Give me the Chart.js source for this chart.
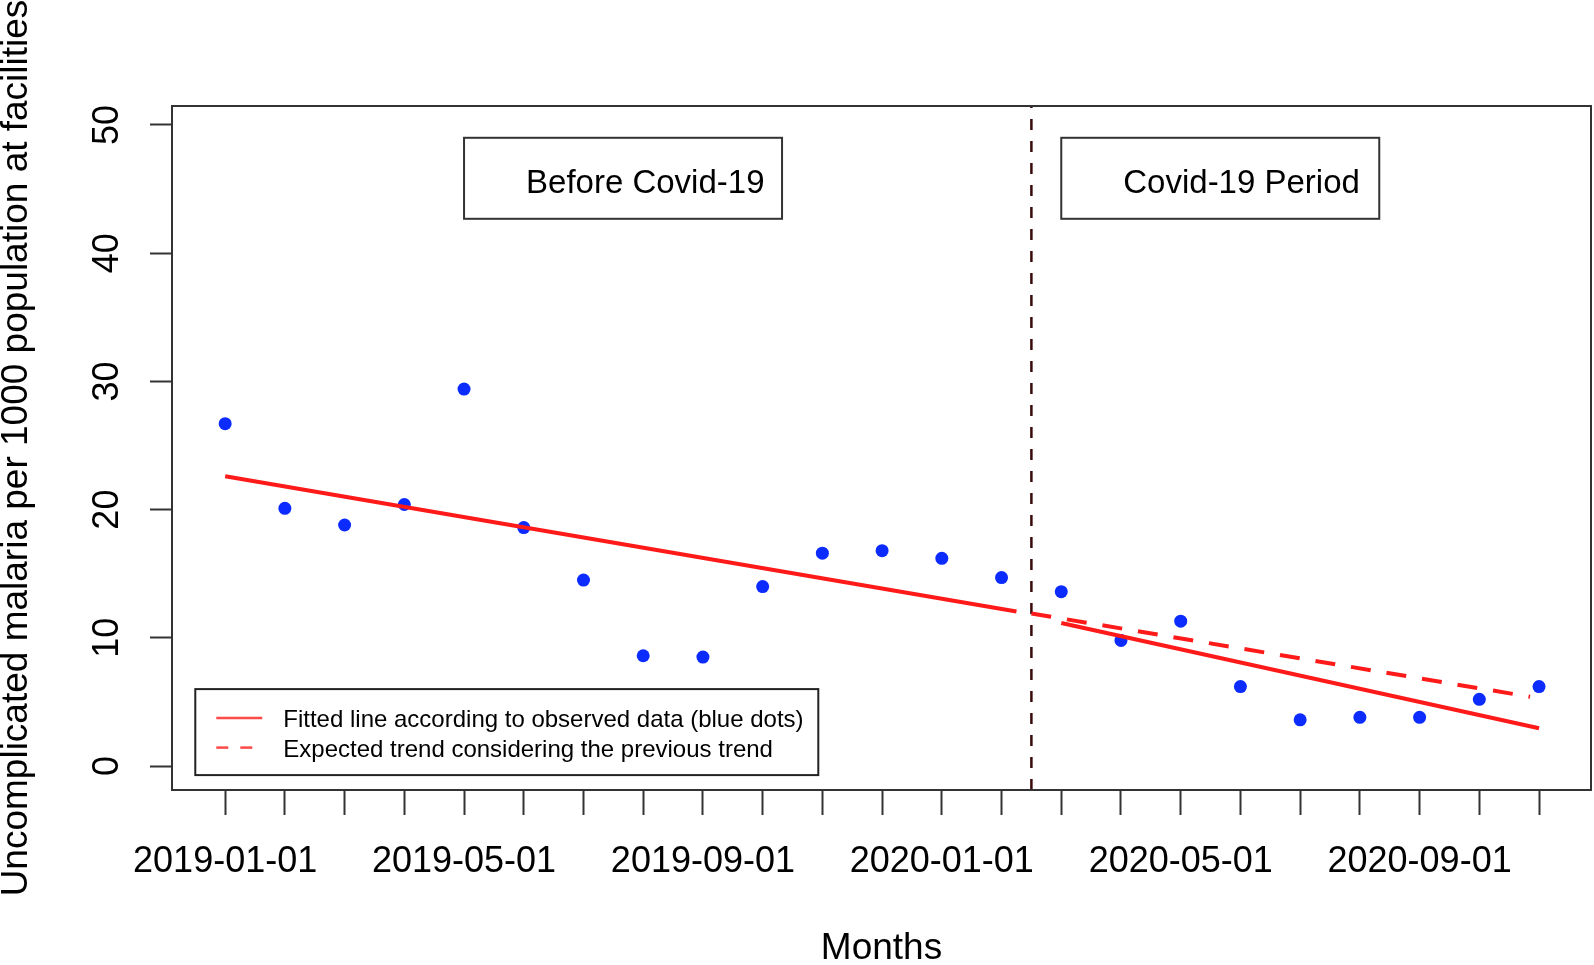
<!DOCTYPE html>
<html lang="en">
<head>
  <meta charset="UTF-8">
  <title>Uncomplicated malaria before and during Covid-19</title>
  <script src="https://cdn.jsdelivr.net/npm/chart.js"></script>
  <style>
    html, body { margin: 0; padding: 0; background: #fff; }
    canvas { display: block; }
  </style>
</head>
<body>
  <canvas id="malariaChart" width="1594" height="965"></canvas>

  <script>
    // one entry per month, 2019-01 .. 2020-11 (x value = index)
    const months = [
      "2019-01-01", "2019-02-01", "2019-03-01", "2019-04-01", "2019-05-01", "2019-06-01",
      "2019-07-01", "2019-08-01", "2019-09-01", "2019-10-01", "2019-11-01", "2019-12-01",
      "2020-01-01", "2020-02-01", "2020-03-01", "2020-04-01", "2020-05-01", "2020-06-01",
      "2020-07-01", "2020-08-01", "2020-09-01", "2020-10-01", "2020-11-01"
    ];
    const labeledMonths = ["2019-01-01", "2019-05-01", "2019-09-01", "2020-01-01", "2020-05-01", "2020-09-01"];

    // observed rate per 1000 population (blue dots)
    const observed = [
      26.7, 20.1, 18.8, 20.4, 29.4, 18.6, 14.5, 8.6, 8.5, 14.0, 16.6, 16.8,
      16.2, 14.7, 13.6, 9.8, 11.3, 6.2, 3.6, 3.8, 3.8, 5.2, 6.2
    ];

    // fitted segments (end points, x in month index)
    const fitBeforeX = [0, 13.25];
    const fitBeforeY = [22.6, 12.05];
    const fitAfterX = [14, 22];
    const fitAfterY = [11.15, 2.95];
    const expectedX = [13.5, 21.85];
    const expectedY = [11.9, 5.4];

    const covidStart = 13.5;
    const yTicks = [0, 10, 20, 30, 40, 50];
    const yMin = -1.87, yMax = 51.48;
    const xMin = -0.89, xMax = 22.87;

    const periodLabels = ["Before Covid-19", "Covid-19 Period"];
    const periodX = [4, 14];
    const periodY = 49;

    const legendLabels = [
      "Fitted line according to observed data (blue dots)",
      "Expected trend considering the previous trend"
    ];
    const legendX = -0.5, legendY = 6;

    const FONT = '"Liberation Sans", Arial, Helvetica, sans-serif';
    const RED = "#ff1a1a";

    const toXY = (xs, ys) => xs.map((x, i) => ({ x: x, y: ys[i] }));

    // box, y tick labels, period boxes and legend (R style)
    const decorations = {
      id: "decorations",
      afterDraw(chart) {
        const { ctx, chartArea: a, scales } = chart;
        const sx = scales.x, sy = scales.y;
        ctx.save();

        // plot frame
        ctx.strokeStyle = "#333";
        ctx.lineWidth = 2;
        ctx.strokeRect(a.left, a.top, a.right - a.left, a.bottom - a.top);

        // y tick labels, rotated like R
        ctx.fillStyle = "#000";
        ctx.font = "36px " + FONT;
        ctx.textAlign = "center";
        ctx.textBaseline = "middle";
        yTicks.forEach(v => {
          ctx.save();
          ctx.translate(108, sy.getPixelForValue(v));
          ctx.rotate(-Math.PI / 2);
          ctx.fillText(String(v), 0, 0);
          ctx.restore();
        });

        // period boxes
        ctx.font = "33px " + FONT;
        ctx.textAlign = "left";
        ctx.textBaseline = "alphabetic";
        periodLabels.forEach((txt, i) => {
          const bx = sx.getPixelForValue(periodX[i]);
          const by = sy.getPixelForValue(periodY);
          ctx.fillStyle = "#fff";
          ctx.fillRect(bx, by, 318, 81);
          ctx.strokeStyle = "#333";
          ctx.lineWidth = 2;
          ctx.strokeRect(bx, by, 318, 81);
          ctx.fillStyle = "#000";
          ctx.fillText(txt, bx + 62, by + 55);
        });

        // legend
        const lx = sx.getPixelForValue(legendX);
        const ly = sy.getPixelForValue(legendY);
        ctx.fillStyle = "#fff";
        ctx.fillRect(lx, ly, 623, 86);
        ctx.strokeStyle = "#222";
        ctx.lineWidth = 2;
        ctx.strokeRect(lx, ly, 623, 86);
        ctx.font = "24px " + FONT;
        legendLabels.forEach((txt, i) => {
          const rowY = ly + 29 + i * 29.5;
          ctx.strokeStyle = "#ff4a4a";
          ctx.lineWidth = 2.5;
          ctx.setLineDash(i === 1 ? [12, 12] : []);
          ctx.beginPath();
          ctx.moveTo(lx + 21, rowY);
          ctx.lineTo(lx + 67, rowY);
          ctx.stroke();
          ctx.setLineDash([]);
          ctx.fillStyle = "#000";
          ctx.fillText(txt, lx + 88, rowY + 9);
        });

        ctx.restore();
      }
    };

    const ctx = document.getElementById("malariaChart").getContext("2d");
    Chart.defaults.font.family = FONT;
    Chart.defaults.color = "#000";

    new Chart(ctx, {
      type: "scatter",
      data: {
        datasets: [
          {
            label: "Fitted (before)",
            data: toXY(fitBeforeX, fitBeforeY),
            showLine: true, borderColor: RED, borderWidth: 4, pointRadius: 0, order: 0
          },
          {
            label: "Fitted (after)",
            data: toXY(fitAfterX, fitAfterY),
            showLine: true, borderColor: RED, borderWidth: 4, pointRadius: 0, order: 0
          },
          {
            label: "Expected",
            data: toXY(expectedX, expectedY),
            showLine: true, borderColor: RED, borderWidth: 4, borderDash: [20, 16],
            pointRadius: 0, order: 0
          },
          {
            label: "Covid start",
            data: [{ x: covidStart, y: yMin }, { x: covidStart, y: yMax }],
            showLine: true, borderColor: "#3a0a0a", borderWidth: 2.5, borderDash: [11, 11],
            pointRadius: 0, order: 0
          },
          {
            label: "Observed",
            data: observed.map((v, i) => ({ x: i, y: v })),
            backgroundColor: "#0b2bff", borderWidth: 0, pointRadius: 6.5, order: 1
          }
        ]
      },
      options: {
        responsive: false,
        animation: false,
        devicePixelRatio: 1,
        layout: { autoPadding: false, padding: { top: 106, right: 3, left: 0, bottom: 0 } },
        plugins: {
          legend: { display: false },
          tooltip: { enabled: false }
        },
        scales: {
          x: {
            type: "linear",
            min: xMin,
            max: xMax,
            afterBuildTicks: axis => { axis.ticks = months.map((m, i) => ({ value: i })); },
            afterFit: axis => {
              axis.height = 175;
              axis.paddingLeft = 0;
              axis.paddingRight = 0;
            },
            border: { display: false },
            grid: {
              drawOnChartArea: false,
              drawTicks: true,
              tickLength: 25,
              tickWidth: 2,
              tickColor: "#333"
            },
            ticks: {
              autoSkip: false,
              maxRotation: 0,
              minRotation: 0,
              padding: 25,
              font: { size: 36 },
              color: "#000",
              callback: value => labeledMonths.includes(months[value]) ? months[value] : ""
            },
            title: {
              display: true,
              text: "Months",
              font: { size: 37, lineHeight: 0.85 },
              padding: 0,
              color: "#000"
            }
          },
          y: {
            type: "linear",
            min: yMin,
            max: yMax,
            afterBuildTicks: axis => { axis.ticks = yTicks.map(v => ({ value: v })); },
            afterFit: axis => { axis.width = 172; },
            border: { display: false },
            grid: {
              drawOnChartArea: false,
              drawTicks: true,
              tickLength: 22,
              tickWidth: 2,
              tickColor: "#333"
            },
            ticks: { callback: () => "" },
            title: {
              display: true,
              text: "Uncomplicated malaria per 1000 population at facilities",
              font: { size: 37, lineHeight: 0.9 },
              padding: 0,
              color: "#000"
            }
          }
        }
      },
      plugins: [decorations]
    });
  </script>
</body>
</html>
